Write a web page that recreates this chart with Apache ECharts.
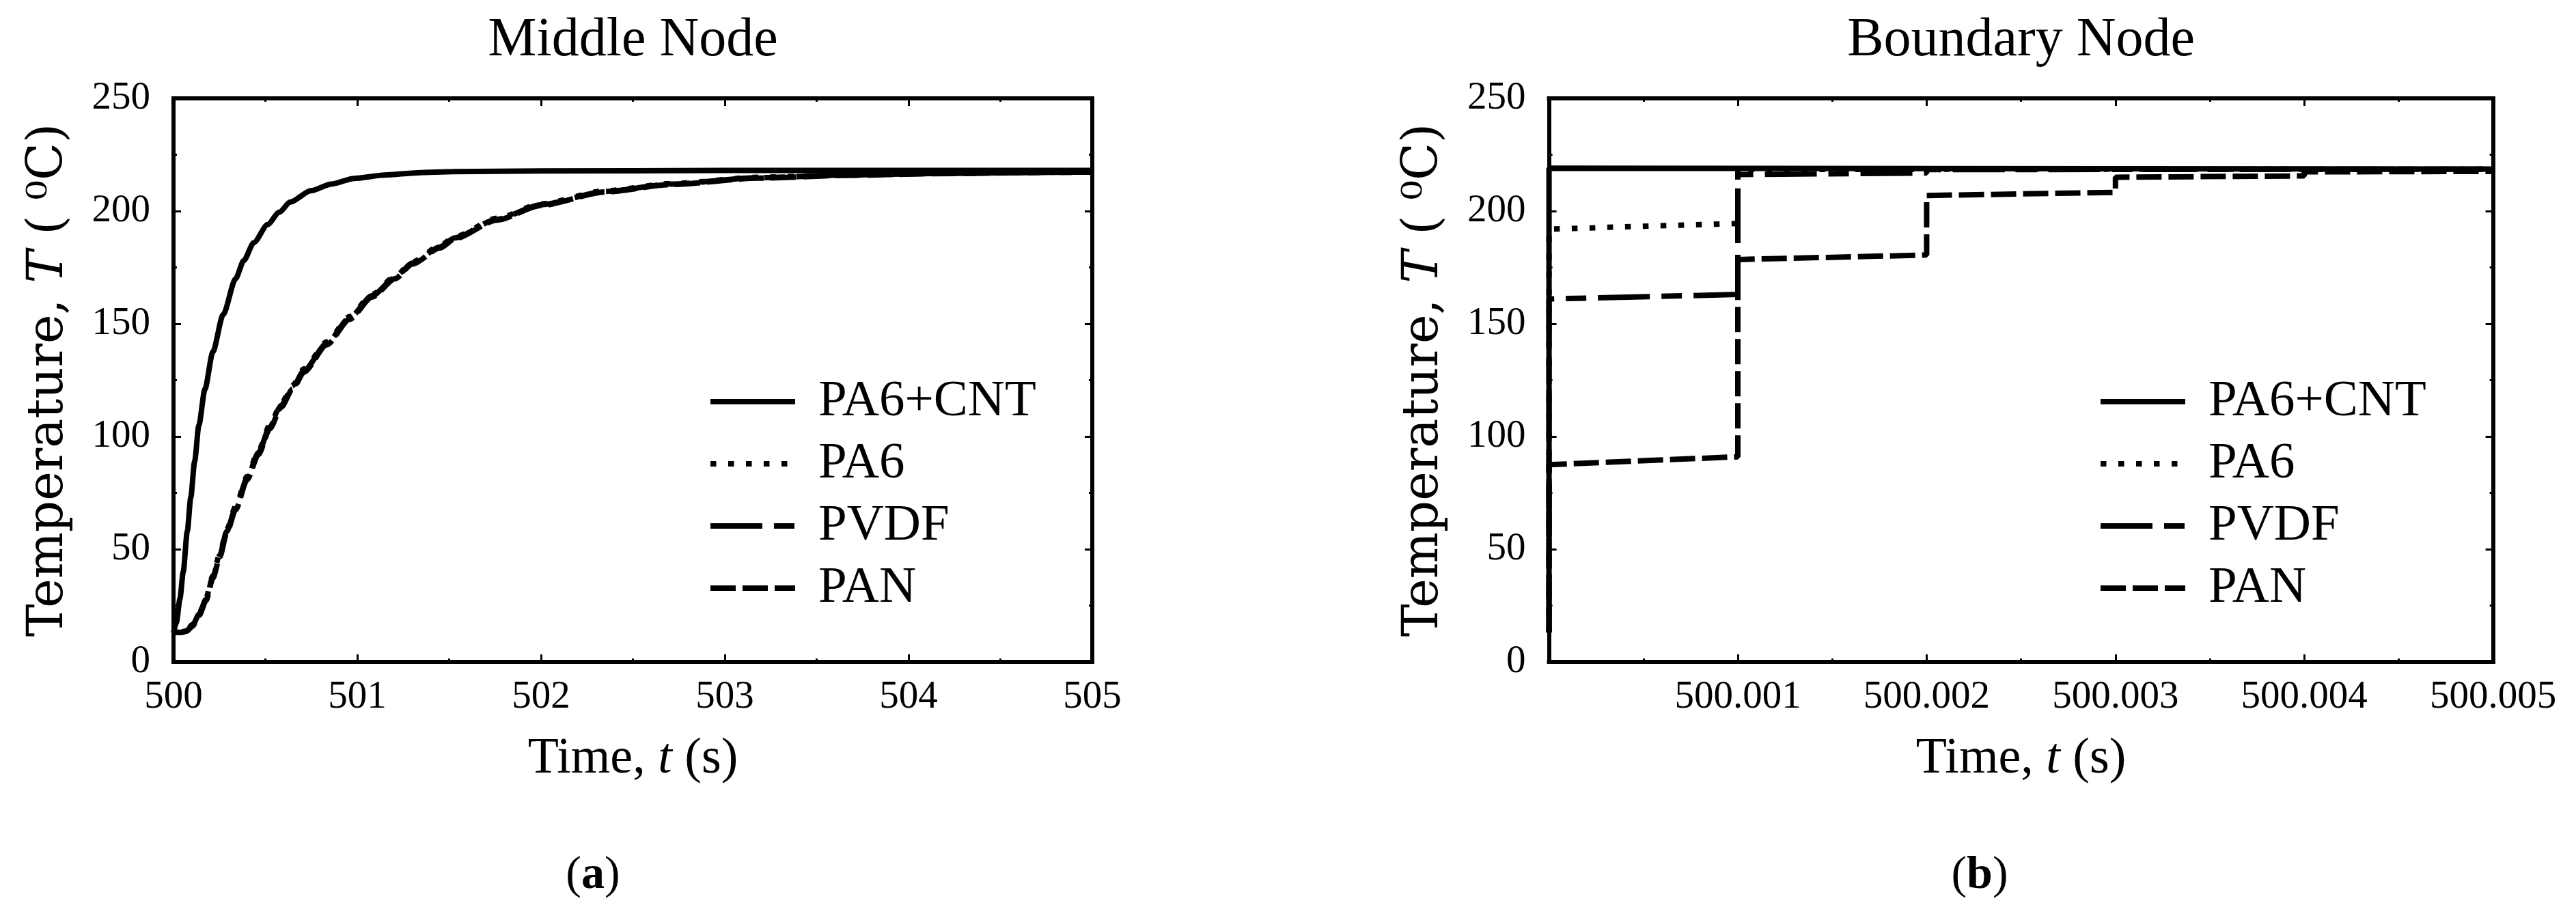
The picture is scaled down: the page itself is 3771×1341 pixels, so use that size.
<!DOCTYPE html>
<html>
<head>
<meta charset="utf-8">
<script src="https://cdn.jsdelivr.net/npm/echarts@6/dist/echarts.min.js"></script>
<style>html,body{margin:0;padding:0;background:#fff}#c{width:3771px;height:1341px}</style>
</head>
<body>
<div id="c"></div>
<script>
// ---------- data ----------
const seriesNames = ['PA6+CNT', 'PA6', 'PVDF', 'PAN'];
const panelTitles = ['Middle Node', 'Boundary Node'];
const panelTags = ['a', 'b'];
const yTicks = [0, 50, 100, 150, 200, 250];
const xTicksMiddle = [500, 501, 502, 503, 504, 505];
const xTicksBoundary = [500, 500.001, 500.002, 500.003, 500.004, 500.005];

// Middle node  [time (s), temperature (C)]
const midPA6CNT = [[500.000,13],[500.016,17.5],[500.035,28],[500.053,40],[500.075,58],[500.094,73],[500.115,89],[500.138,105],[500.171,121],[500.214,137.5],[500.27,154],[500.338,170],[500.382,178],[500.437,186],[500.512,194],[500.575,199.5],[500.636,204],[500.747,209],[500.859,212],[500.983,214.5],[501.15,216],[501.33,217],[501.52,217.5],[502,217.8],[503,218],[504,218],[505,218]];
const midPA6 = [[500.000,13],[500.04,13.2],[500.072,14.2],[500.103,16.6],[500.14,21.6],[500.177,28.4],[500.214,38.2],[500.252,48],[500.289,58.6],[500.338,69],[500.4,82.3],[500.462,93.6],[500.524,105],[500.586,114.6],[500.648,122.6],[500.71,130],[500.834,142],[500.958,153.2],[501.08,163],[501.206,171],[501.3,177.4],[501.45,184.6],[501.53,188.6],[501.76,196.8],[502.0,203.2],[502.35,209],[502.71,212.2],[503.18,215],[503.66,216.1],[504.13,216.8],[504.84,217.3],[505,217.4]];
const midPVDF = [[500.000,13],[500.04,13.1],[500.072,13.9],[500.103,16.2],[500.14,21.2],[500.177,27.8],[500.214,37.6],[500.252,47.3],[500.289,57.8],[500.338,68.2],[500.4,81.5],[500.462,92.8],[500.524,104.2],[500.586,113.8],[500.648,121.8],[500.71,129.2],[500.834,141.3],[500.958,152.6],[501.08,162.4],[501.206,170.5],[501.3,176.9],[501.45,184.1],[501.53,188.1],[501.76,196.4],[502.0,202.8],[502.35,208.7],[502.71,212],[503.18,214.8],[503.66,216],[504.13,216.7],[504.84,217.2],[505,217.3]];
const midPAN = [[500.000,13],[500.04,13],[500.072,13.6],[500.103,15.8],[500.14,20.7],[500.177,27.2],[500.214,37],[500.252,46.6],[500.289,57],[500.338,67.5],[500.4,80.7],[500.462,92],[500.524,103.4],[500.586,113],[500.648,121],[500.71,128.5],[500.834,140.7],[500.958,152],[501.08,161.8],[501.206,170],[501.3,176.5],[501.45,183.6],[501.53,187.7],[501.76,196],[502.0,202.5],[502.35,208.5],[502.71,211.8],[503.18,214.6],[503.66,215.8],[504.13,216.6],[504.84,217.2],[505,217.3]];

// Boundary node
const bndPA6CNT = [[500,13],[500,219],[500.005,218.6]];
const bndPA6 = [[500,13],[500,192],[500.001,194.5],[500.001,218.5],[500.005,218.6]];
const bndPVDF = [[500,13],[500,161],[500.001,163],[500.001,216.2],[500.002,216.9],[500.002,218.4],[500.005,218.6]];
const bndPAN = [[500,13],[500,87.5],[500.001,91],[500.001,178.5],[500.002,180.5],[500.002,206.9],[500.003,208.3],[500.003,215],[500.004,215.6],[500.004,217.4],[500.005,217.6]];

// ---------- styles ----------
const FONT = 'Liberation Serif';
const lineStyles = [
  {type: 'solid'},
  {type: [8.5, 17.5]},
  {type: [76, 17, 30, 17]},
  {type: [37, 10]}
];
const LW = 8;

const grids = [
  {left: 254, top: 144, width: 1345, height: 825, outerBoundsMode: 'none'},
  {left: 2267.6, top: 144, width: 1382, height: 825, outerBoundsMode: 'none'}
];

function axisCommon() {
  return {
    axisLine: {show: true, onZero: false, lineStyle: {color: '#000', width: 6, cap: 'square'}},
    axisTick: {show: true, inside: true, length: 11, lineStyle: {color: '#000', width: 3}},
    minorTick: {show: true, splitNumber: 2, length: 5, lineStyle: {color: '#000', width: 3}},
    splitLine: {show: false},
    minorSplitLine: {show: false}
  };
}

const xAxes = [];
const yAxes = [];
const xCfg = [
  {min: xTicksMiddle[0], max: xTicksMiddle[xTicksMiddle.length - 1], interval: 1,
   fmt: v => String(Math.round(v))},
  {min: xTicksBoundary[0], max: xTicksBoundary[xTicksBoundary.length - 1], interval: 0.001,
   fmt: v => (Math.abs(v - 500) < 1e-9 ? '' : v.toFixed(3))}
];
for (let g = 0; g < 2; g++) {
  xAxes.push(Object.assign(axisCommon(), {
    type: 'value', gridIndex: g, position: 'bottom',
    min: xCfg[g].min, max: xCfg[g].max, interval: xCfg[g].interval,
    axisLabel: {show: true, color: '#000', fontFamily: FONT, fontSize: 57, margin: 24, formatter: xCfg[g].fmt},
    name: 'Time, {i|t} (s)', nameLocation: 'middle', nameGap: 106,
    nameTextStyle: {color: '#000', fontFamily: FONT, fontSize: 74,
      rich: {i: {fontStyle: 'italic', fontFamily: FONT, fontSize: 74, color: '#000'}}}
  }));
  xAxes.push(Object.assign(axisCommon(), {
    type: 'value', gridIndex: g, position: 'top',
    min: xCfg[g].min, max: xCfg[g].max, interval: xCfg[g].interval,
    axisLabel: {show: false}
  }));
  yAxes.push(Object.assign(axisCommon(), {
    type: 'value', gridIndex: g, position: 'left',
    min: yTicks[0], max: yTicks[yTicks.length - 1], interval: 50,
    axisLabel: {show: true, color: '#000', fontFamily: FONT, fontSize: 57, margin: 34,
      formatter: v => String(Math.round(v))},
    name: 'Temperature, {i|T} ( \u2070C)', nameLocation: 'middle', nameGap: 146, nameRotate: 90,
    nameTextStyle: {color: '#000', fontFamily: 'DejaVu Serif', fontSize: 72,
      rich: {i: {fontStyle: 'italic', fontFamily: 'DejaVu Serif', fontSize: 72, color: '#000'}}}
  }));
  yAxes.push(Object.assign(axisCommon(), {
    type: 'value', gridIndex: g, position: 'right',
    min: yTicks[0], max: yTicks[yTicks.length - 1], interval: 50,
    axisLabel: {show: false}
  }));
}

const midData = [midPA6CNT, midPA6, midPVDF, midPAN];
const bndData = [bndPA6CNT, bndPA6, bndPVDF, bndPAN];
const series = [];
seriesNames.forEach((n, i) => {
  series.push({
    name: n, type: 'line', xAxisIndex: 0, yAxisIndex: 0, data: midData[i],
    symbol: 'none', showSymbol: false, smooth: 0.25, smoothMonotone: 'x', color: '#000', z: 10 - i,
    lineStyle: Object.assign({color: '#000', width: LW}, lineStyles[i])
  });
  series.push({
    name: n, type: 'line', xAxisIndex: 2, yAxisIndex: 2, data: bndData[i],
    symbol: 'none', showSymbol: false, color: '#000', z: 10 - i,
    lineStyle: Object.assign({color: '#000', width: LW}, lineStyles[i])
  });
});

function legendAt(left) {
  return {
    orient: 'vertical', left: left, top: 543, itemWidth: 124, itemHeight: 20, itemGap: 11,
    selectedMode: false,
    itemStyle: {opacity: 0},
    lineStyle: {width: LW, color: '#000'},
    data: seriesNames.map((n, i) => ({
      name: n,
      itemStyle: {opacity: 0, borderWidth: 0},
      lineStyle: Object.assign({width: LW, color: '#000', cap: 'butt'}, lineStyles[i])
    })),
    textStyle: {color: '#000', fontFamily: FONT, fontSize: 75, lineHeight: 80, padding: [0, 0, 0, 29]}
  };
}

const graphics = [];
[926.5, 2958.6].forEach((cx, i) => {
  graphics.push({type: 'text', x: cx, y: 60, style: {text: panelTitles[i], fill: '#000',
    font: '80px "' + FONT + '"', textAlign: 'center', textVerticalAlign: 'middle'}});
});
[868, 2898].forEach((cx, i) => {
  graphics.push({type: 'text', x: cx, y: 1282, style: {
    text: '({b|' + panelTags[i] + '})', fill: '#000', fontFamily: FONT, fontSize: 68,
    rich: {b: {fontWeight: 'bold', fontFamily: FONT, fontSize: 68, fill: '#000'}},
    textAlign: 'center', textVerticalAlign: 'middle'}});
});

const chart = echarts.init(document.getElementById('c'), null, {renderer: 'canvas'});
chart.setOption({
  animation: false,
  backgroundColor: '#fff',
  grid: grids,
  xAxis: xAxes,
  yAxis: yAxes,
  legend: [legendAt(1031), legendAt(3066)],
  series: series,
  graphic: graphics
});
</script>
</body>
</html>
